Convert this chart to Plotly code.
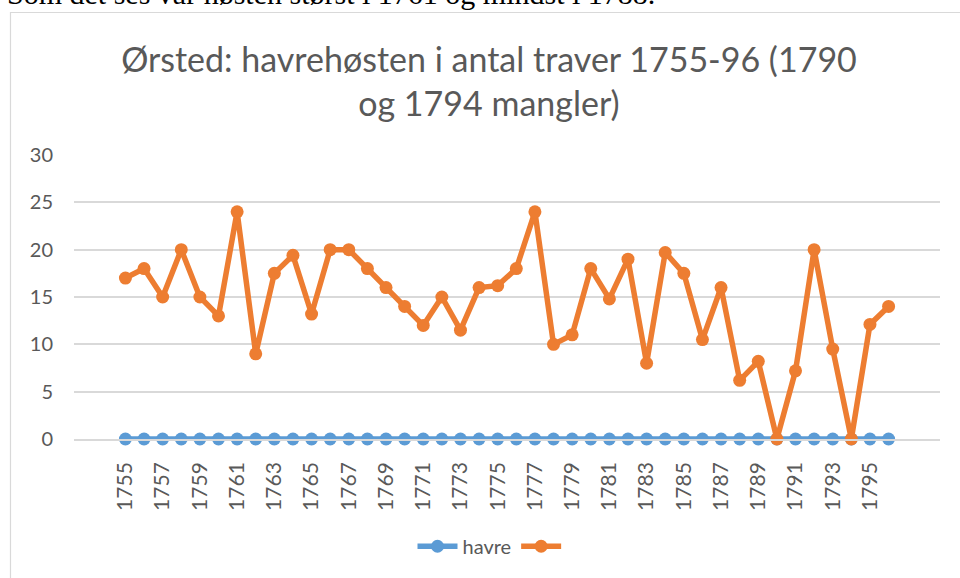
import plotly.graph_objects as go

years = [str(y) for y in range(1755, 1797)]
havre = [0] * 42
traver = [17, 18, 15, 20, 15, 13, 24, 9, 17.5, 19.4,
          13.2, 20, 20, 18, 16, 14, 12, 15, 11.5, 16,
          16.2, 18, 24, 10, 11, 18, 14.8, 19, 8, 19.7,
          17.5, 10.5, 16, 6.2, 8.2, 0, 7.2, 20, 9.5, 0,
          12.1, 14]
tick_labels = years[::2]

title_text = "Ørsted: havrehøsten i antal traver 1755-96 (1790<br>og 1794 mangler)"
doc_text = "Som det ses var høsten størst i 1761 og mindst i 1788."

W, H = 960, 578
L, R, T, B = 74, 940, 155, 443


def px_x(p):
    return (p - L) / (R - L)


def px_y(p):
    return (B - p) / (B - T)


fig = go.Figure()
fig.add_trace(go.Scatter(
    x=years, y=havre, name="havre", mode="lines+markers",
    line=dict(color="#5B9BD5", width=5.5),
    marker=dict(color="#5B9BD5", size=13),
    cliponaxis=False,
))
fig.add_trace(go.Scatter(
    x=years, y=traver, name="", mode="lines+markers",
    line=dict(color="#ED7D31", width=5.5),
    marker=dict(color="#ED7D31", size=13),
    cliponaxis=False,
))

font_family = "Lato, 'Open Sans', sans-serif"

fig.update_layout(
    width=W, height=H,
    margin=dict(l=L, r=W - R, t=T, b=H - B, pad=0),
    paper_bgcolor="white", plot_bgcolor="white",
    font=dict(family=font_family, color="#595959", size=20),
    title=dict(
        text=title_text,
        x=px_x(489), xref="paper", xanchor="center",
        y=1 - 72 / H, yref="container", yanchor="top",
        font=dict(size=34, color="#595959", family=font_family),
    ),
    showlegend=True,
    legend=dict(
        orientation="h", x=px_x(492), xanchor="center",
        y=px_y(532), yanchor="top", yref="paper",
        font=dict(size=20, color="#595959"),
        itemwidth=40, traceorder="normal",
    ),
    xaxis=dict(
        type="category", categoryorder="array", categoryarray=years,
        tickmode="array", tickvals=tick_labels, ticktext=tick_labels,
        tickangle=-90, ticks="", showgrid=False,
        showline=True, linecolor="#D9D9D9", linewidth=1.5,
        ticklabelstandoff=13, tickfont=dict(size=21, color="#595959"),
        zeroline=False,
    ),
    yaxis=dict(
        range=[0, 30], tickmode="linear", tick0=0, dtick=5,
        showgrid=True, gridcolor="#D9D9D9", gridwidth=1.5,
        zeroline=False, showline=False, ticks="",
        ticklabelstandoff=20, tickfont=dict(size=20, color="#595959"),
    ),
    shapes=[dict(
        type="rect", xref="paper", yref="paper",
        x0=px_x(10.5), x1=px_x(975), y0=px_y(595), y1=px_y(10.5),
        line=dict(color="#D9D9D9", width=1.2), fillcolor="rgba(0,0,0,0)",
        layer="below",
    )],
    annotations=[dict(
        text=doc_text, xref="paper", yref="paper",
        x=px_x(5), xanchor="left", y=px_y(10), yanchor="bottom",
        showarrow=False,
        font=dict(family="'Liberation Serif', 'Times New Roman', serif", size=30, color="black"),
    )],
)

fig.write_html(
    "out.html",
    config={"displayModeBar": False},
    post_script="document.body.style.margin='0';document.body.style.overflow='hidden';",
)
